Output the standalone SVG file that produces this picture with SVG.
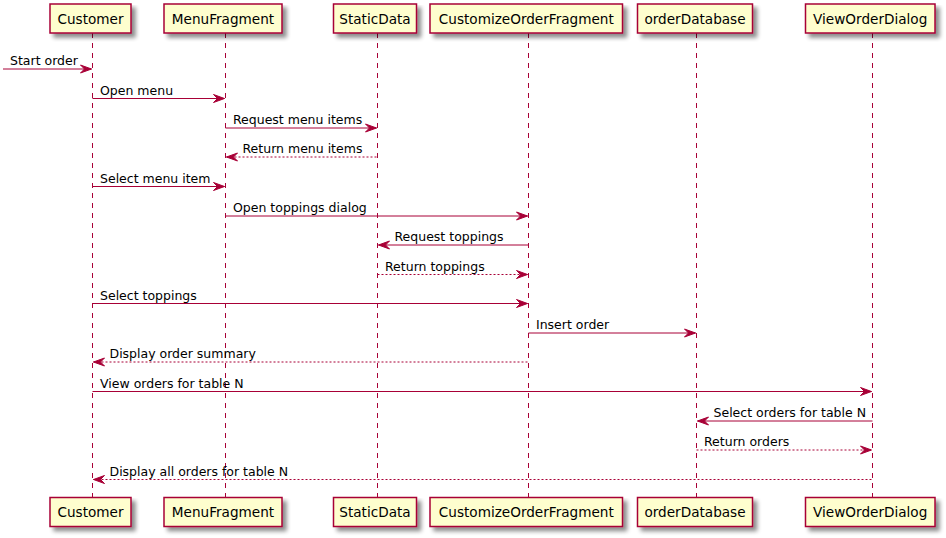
<svg xmlns="http://www.w3.org/2000/svg" width="946" height="538" viewBox="0 0 946 538">
  <style>
    .box { fill: #FEFECE; stroke: #A80036; stroke-width: 1.5; }
    .life { stroke: #A80036; stroke-width: 1; stroke-dasharray: 5,5; fill: none; }
    .msg { stroke: #A80036; stroke-width: 1; fill: none; }
    .ret { stroke: #A80036; stroke-width: 1; stroke-dasharray: 2,2; fill: none; }
    .head { fill: #A80036; stroke: #A80036; stroke-width: 1; }
    .plabel { font-family: "DejaVu Sans", "Liberation Sans", sans-serif; font-size: 13.6px; fill: #000; text-anchor: middle; }
    .mlabel { font-family: "DejaVu Sans", "Liberation Sans", sans-serif; font-size: 12.5px; fill: #000; }
  </style>
  <defs>
    <filter id="shadow" x="-10%" y="-10%" width="130%" height="150%">
      <feGaussianBlur in="SourceAlpha" stdDeviation="2" result="b"/>
      <feOffset in="b" dx="4" dy="4" result="o"/>
      <feComponentTransfer in="o" result="s">
        <feFuncA type="linear" slope="0.45"/>
      </feComponentTransfer>
      <feMerge>
        <feMergeNode in="s"/>
        <feMergeNode in="SourceGraphic"/>
      </feMerge>
    </filter>
    <!-- arrowheads, tip at origin -->
    <polygon id="headR" class="head" points="-11,-4 0,0 -11,4 -7,0"/>
    <polygon id="headL" class="head" points="11,-4 0,0 11,4 7,0"/>
  </defs>

  <!-- lifelines -->
  <g id="lifelines">
    <line class="life" x1="92.5" y1="33" x2="92.5" y2="497"/>
    <line class="life" x1="225.5" y1="33" x2="225.5" y2="497"/>
    <line class="life" x1="377.5" y1="33" x2="377.5" y2="497"/>
    <line class="life" x1="528.5" y1="33" x2="528.5" y2="497"/>
    <line class="life" x1="696.5" y1="33" x2="696.5" y2="497"/>
    <line class="life" x1="872.5" y1="33" x2="872.5" y2="497"/>
  </g>

  <!-- participants (top and bottom heads) -->
  <g id="customer">
    <rect class="box" filter="url(#shadow)" x="50" y="4" width="81" height="29"/>
    <text class="plabel" x="90.5" y="23.5">Customer</text>
    <rect class="box" filter="url(#shadow)" x="50" y="497.5" width="81" height="29"/>
    <text class="plabel" x="90.5" y="517">Customer</text>
  </g>
  <g id="menuFragment">
    <rect class="box" filter="url(#shadow)" x="164" y="4" width="118" height="29"/>
    <text class="plabel" x="223" y="23.5">MenuFragment</text>
    <rect class="box" filter="url(#shadow)" x="164" y="497.5" width="118" height="29"/>
    <text class="plabel" x="223" y="517">MenuFragment</text>
  </g>
  <g id="staticData">
    <rect class="box" filter="url(#shadow)" x="333.5" y="4" width="83" height="29"/>
    <text class="plabel" x="375" y="23.5">StaticData</text>
    <rect class="box" filter="url(#shadow)" x="333.5" y="497.5" width="83" height="29"/>
    <text class="plabel" x="375" y="517">StaticData</text>
  </g>
  <g id="customizeOrderFragment">
    <rect class="box" filter="url(#shadow)" x="430" y="4" width="192.5" height="29"/>
    <text class="plabel" x="526.3" y="23.5">CustomizeOrderFragment</text>
    <rect class="box" filter="url(#shadow)" x="430" y="497.5" width="192.5" height="29"/>
    <text class="plabel" x="526.3" y="517">CustomizeOrderFragment</text>
  </g>
  <g id="orderDatabase">
    <rect class="box" filter="url(#shadow)" x="637.5" y="4" width="115" height="29"/>
    <text class="plabel" x="695" y="23.5">orderDatabase</text>
    <rect class="box" filter="url(#shadow)" x="637.5" y="497.5" width="115" height="29"/>
    <text class="plabel" x="695" y="517">orderDatabase</text>
  </g>
  <g id="viewOrderDialog">
    <rect class="box" filter="url(#shadow)" x="805.5" y="4" width="129.5" height="29"/>
    <text class="plabel" x="870.2" y="23.5">ViewOrderDialog</text>
    <rect class="box" filter="url(#shadow)" x="805.5" y="497.5" width="129.5" height="29"/>
    <text class="plabel" x="870.2" y="517">ViewOrderDialog</text>
  </g>

  <!-- messages -->
  <g id="connectors">
    <line class="msg" x1="3" y1="69" x2="91.5" y2="69"/>
    <use href="#headR" x="91.5" y="69"/>
    <text class="mlabel" x="10" y="65">Start order</text>

    <line class="msg" x1="92.5" y1="98.5" x2="224.5" y2="98.5"/>
    <use href="#headR" x="224.5" y="98.5"/>
    <text class="mlabel" x="100" y="94.5">Open menu</text>

    <line class="msg" x1="225.5" y1="128" x2="376.5" y2="128"/>
    <use href="#headR" x="376.5" y="128"/>
    <text class="mlabel" x="233" y="124">Request menu items</text>

    <line class="ret" x1="226.5" y1="157" x2="377.5" y2="157"/>
    <use href="#headL" x="226.5" y="157"/>
    <text class="mlabel" x="242.5" y="153">Return menu items</text>

    <line class="msg" x1="92.5" y1="186.5" x2="224.5" y2="186.5"/>
    <use href="#headR" x="224.5" y="186.5"/>
    <text class="mlabel" x="100" y="182.5">Select menu item</text>

    <line class="msg" x1="225.5" y1="216" x2="527.5" y2="216"/>
    <use href="#headR" x="527.5" y="216"/>
    <text class="mlabel" x="233" y="212">Open toppings dialog</text>

    <line class="msg" x1="378.5" y1="245" x2="528.5" y2="245"/>
    <use href="#headL" x="378.5" y="245"/>
    <text class="mlabel" x="394.5" y="241">Request toppings</text>

    <line class="ret" x1="377.5" y1="274.5" x2="527.5" y2="274.5"/>
    <use href="#headR" x="527.5" y="274.5"/>
    <text class="mlabel" x="385" y="270.5">Return toppings</text>

    <line class="msg" x1="92.5" y1="303.5" x2="527.5" y2="303.5"/>
    <use href="#headR" x="527.5" y="303.5"/>
    <text class="mlabel" x="100" y="299.5">Select toppings</text>

    <line class="msg" x1="528.5" y1="333" x2="695.5" y2="333"/>
    <use href="#headR" x="695.5" y="333"/>
    <text class="mlabel" x="536" y="329">Insert order</text>

    <line class="ret" x1="93.5" y1="362" x2="528.5" y2="362"/>
    <use href="#headL" x="93.5" y="362"/>
    <text class="mlabel" x="109.5" y="358">Display order summary</text>

    <line class="msg" x1="92.5" y1="391.5" x2="871.5" y2="391.5"/>
    <use href="#headR" x="871.5" y="391.5"/>
    <text class="mlabel" x="100" y="387.5">View orders for table N</text>

    <line class="msg" x1="697.5" y1="421" x2="872.5" y2="421"/>
    <use href="#headL" x="697.5" y="421"/>
    <text class="mlabel" x="713.5" y="417">Select orders for table N</text>

    <line class="ret" x1="696.5" y1="450" x2="871.5" y2="450"/>
    <use href="#headR" x="871.5" y="450"/>
    <text class="mlabel" x="704" y="446">Return orders</text>

    <line class="ret" x1="93.5" y1="479.5" x2="872.5" y2="479.5"/>
    <use href="#headL" x="93.5" y="479.5"/>
    <text class="mlabel" x="109.5" y="475.5">Display all orders for table N</text>
  </g>
</svg>
